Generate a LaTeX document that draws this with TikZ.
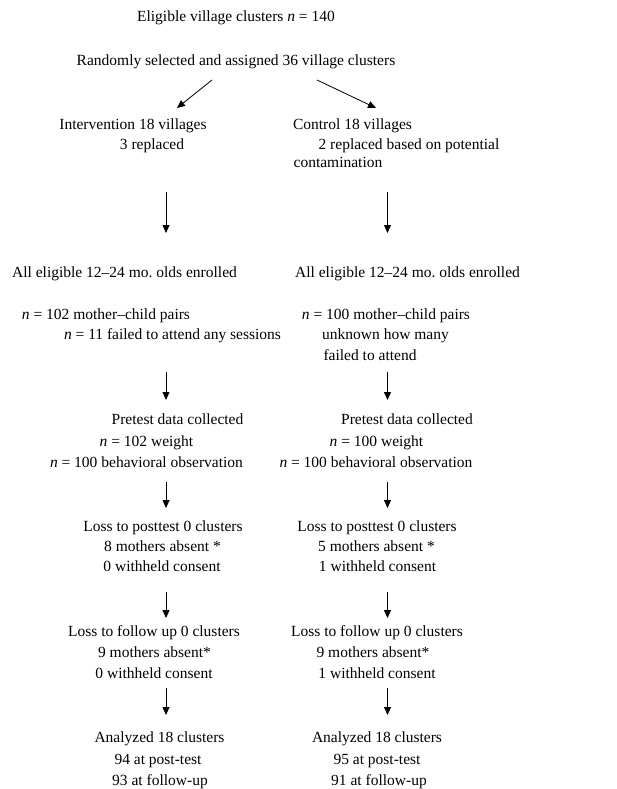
\documentclass[tikz,border=0pt]{standalone}
\usepackage{fontspec}
\setmainfont{Liberation Serif}
\usetikzlibrary{arrows.meta}
\frenchspacing

\begin{document}
\begin{tikzpicture}[x=1pt,y=-1pt]
\tikzset{txt/.style={inner sep=0pt,text height=11pt,text depth=3pt,font=\fontsize{15.5}{21}\selectfont},
  flow/.style={line width=0.8pt,-{Triangle[length=8pt,width=7pt]}}}
\useasboundingbox (0,0) rectangle (616,789);
% top of the chart
\node [txt] (elig) at (236,18) {Eligible village clusters \textit{n} = 140};
\node [txt] (rand) at (236,62) {Randomly selected and assigned 36 village clusters};
% intervention arm
\node [txt] (int1) at (133,125) {Intervention 18 villages};
\node [txt] (int2) at (152,145) {3 replaced};
\node [txt] (enrL) at (124.5,273) {All eligible 12–24 mo. olds enrolled};
\node [txt] (pairL) at (106,315) {\textit{n} = 102 mother–child pairs};
\node [txt] (failL) at (172.5,335) {\textit{n} = 11 failed to attend any sessions};
\node [txt] (preL1) at (177.5,420) {Pretest data collected};
\node [txt] (preL2) at (146.5,442) {\textit{n} = 102 weight};
\node [txt] (preL3) at (146.5,463) {\textit{n} = 100 behavioral observation};
\node [txt] (postL1) at (163,527) {Loss to posttest 0 clusters};
\node [txt] (postL2) at (162.5,547) {8 mothers absent *};
\node [txt] (postL3) at (162,567) {0 withheld consent};
\node [txt] (folL1) at (154,632) {Loss to follow up 0 clusters};
\node [txt] (folL2) at (154.5,653) {9 mothers absent*};
\node [txt] (folL3) at (154,674) {0 withheld consent};
\node [txt] (anaL1) at (159.5,738) {Analyzed 18 clusters};
\node [txt] (anaL2) at (158,760) {94 at post-test};
\node [txt] (anaL3) at (160,781) {93 at follow-up};
% control arm
\node [txt] (con1) at (352.5,125) {Control 18 villages};
\node [txt] (con2) at (409,145) {2 replaced based on potential};
\node [txt] (con3) at (338,163) {contamination};
\node [txt] (enrR) at (407.5,273) {All eligible 12–24 mo. olds enrolled};
\node [txt] (pairR) at (386,315) {\textit{n} = 100 mother–child pairs};
\node [txt] (unkR) at (385.5,335) {unknown how many};
\node [txt] (failR) at (370,356) {failed to attend};
\node [txt] (preR1) at (407,420) {Pretest data collected};
\node [txt] (preR2) at (376.5,442) {\textit{n} = 100 weight};
\node [txt] (preR3) at (376,463) {\textit{n} = 100 behavioral observation};
\node [txt] (postR1) at (377,527) {Loss to posttest 0 clusters};
\node [txt] (postR2) at (376.5,547) {5 mothers absent *};
\node [txt] (postR3) at (377.5,567) {1 withheld consent};
\node [txt] (folR1) at (377,632) {Loss to follow up 0 clusters};
\node [txt] (folR2) at (373,653) {9 mothers absent*};
\node [txt] (folR3) at (377,674) {1 withheld consent};
\node [txt] (anaR1) at (377,738) {Analyzed 18 clusters};
\node [txt] (anaR2) at (377,760) {95 at post-test};
\node [txt] (anaR3) at (379,781) {91 at follow-up};
% arrow ends
\coordinate (sL0) at (212,80);  \coordinate (sL1) at (177,108);
\coordinate (sR0) at (317,80);  \coordinate (sR1) at (376,108);
\foreach \i/\a/\b in {1/192/233,2/372/400,3/482/508,4/592/618,5/688/715} {
  \coordinate (aL\i) at (166,\a); \coordinate (bL\i) at (166,\b);
  \coordinate (aR\i) at (387.5,\a); \coordinate (bR\i) at (387.5,\b);
}
\draw [flow] (sL0) -- (sL1);
\draw [flow] (sR0) -- (sR1);
\foreach \i in {1,...,5} {
  \draw [flow] (aL\i) -- (bL\i);
  \draw [flow] (aR\i) -- (bR\i);
}
\end{tikzpicture}
\end{document}
